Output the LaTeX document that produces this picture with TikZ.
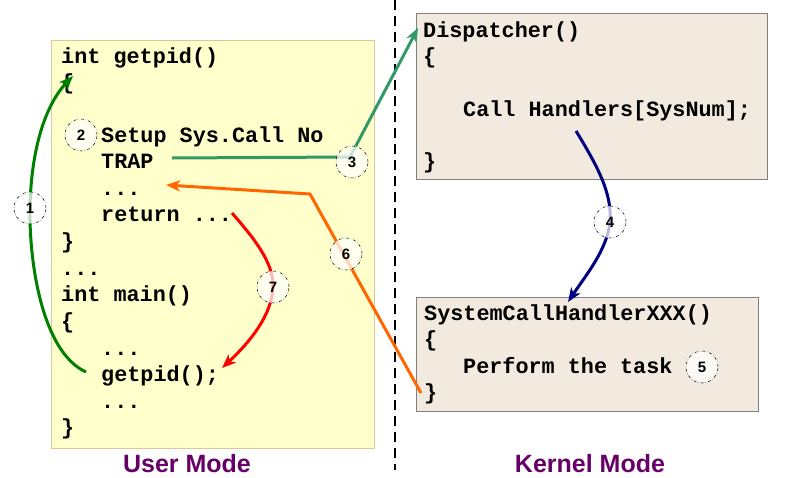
\documentclass[tikz,border=0pt]{standalone}
\usepackage{fontspec}
\setmainfont{Liberation Sans}
\newfontfamily\codefont{Liberation Mono}
\usetikzlibrary{arrows.meta,calc}

\definecolor{userfill}{HTML}{FFFFCC}
\definecolor{userline}{HTML}{D8C89A}
\definecolor{kernfill}{HTML}{F2EADF}
\definecolor{kernline}{HTML}{808080}
\definecolor{modecol}{HTML}{660066}
\definecolor{trapgreen}{HTML}{339966}
\definecolor{callgreen}{HTML}{008000}
\definecolor{retorange}{HTML}{FF6600}
\definecolor{dispnavy}{HTML}{000080}
\definecolor{retred}{HTML}{FF0000}

\tikzset{
  code/.style={font=\codefont\fontsize{21.8}{26}\selectfont\bfseries,
               anchor=base west, inner sep=0pt},
  userbox/.style={draw=userline, fill=userfill, line width=1pt,
                  anchor=north west, inner sep=0pt, outer sep=0pt},
  kernbox/.style={draw=kernline, fill=kernfill, line width=1pt,
                  anchor=north west, inner sep=0pt, outer sep=0pt},
  stepmark/.style={circle, draw, dash dot, line width=0.5pt,
                   minimum size=32pt, inner sep=0pt,
                   fill=white, fill opacity=0.72, text opacity=1,
                   font=\bfseries\fontsize{15}{15}\selectfont},
  arr/.style={line width=3pt,
              -{Stealth[length=14pt,width=11pt,inset=4pt]}},
  modelabel/.style={text=modecol, font=\bfseries\fontsize{25}{25}\selectfont,
                    inner sep=0pt},
  separator/.style={line width=2.8pt, dash pattern=on 10pt off 6pt}
}

\begin{document}
\begin{tikzpicture}[x=1pt, y=-1pt]
\useasboundingbox (0,0) rectangle (790,477);

% user / kernel separator
\coordinate (septop) at (395,0);
\coordinate (sepbot) at (395,470);
\draw[separator] (septop) -- (sepbot);

% boxes
\node[userbox, minimum width=323pt, minimum height=408pt] (user) at (51,40) {};
\node[kernbox, minimum width=351pt, minimum height=166pt] (disp) at (416,13) {};
\node[kernbox, minimum width=342pt, minimum height=114pt] (hand) at (416,297) {};

% user program
\node[code] (u1)  at (61,63)   {int getpid()};
\node[code] (u2)  at (61,89.6) {\{};
\node[code] (u3)  at (101,142) {Setup Sys.Call No};
\node[code] (u4)  at (101,168) {TRAP};
\node[code] (u5)  at (101,195) {...};
\node[code] (u6)  at (101,221) {return ...};
\node[code] (u7)  at (61,248)  {\}};
\node[code] (u8)  at (61,275)  {...};
\node[code] (u9)  at (61,301)  {int main()};
\node[code] (u10) at (61,328)  {\{};
\node[code] (u11) at (101,355) {...};
\node[code] (u12) at (101,381) {getpid();};
\node[code] (u13) at (101,408) {...};
\node[code] (u14) at (61,434)  {\}};

% dispatcher
\node[code] (d1) at (423,37)  {Dispatcher()};
\node[code] (d2) at (423,63)  {\{};
\node[code] (d3) at (463,116) {Call Handlers[SysNum];};
\node[code] (d4) at (423,168) {\}};

% handler
\node[code] (h1) at (424,320) {SystemCallHandlerXXX()};
\node[code] (h2) at (424,346) {\{};
\node[code] (h3) at (463,373) {Perform the task};
\node[code] (h4) at (424,399) {\}};

% mode labels
\node[modelabel] (umode) at (187,464) {User Mode};
\node[modelabel] (kmode) at (590,464) {Kernel Mode};

% step marks (positions)
\coordinate (p1) at (30,208);
\coordinate (p2) at (81,135);
\coordinate (p3) at (352,162);
\coordinate (p4) at (610,222);
\coordinate (p5) at (702,367);
\coordinate (p6) at (346,254);
\coordinate (p7) at (273,287);

% connector ends
\coordinate (a1s) at (86,372);
\coordinate (a1t) at (73,76);
\coordinate (a3s) at (172,158);
\coordinate (a3k) at (350,157);
\coordinate (a3t) at (418,28);
\coordinate (a4s) at (576,131);
\coordinate (a4t) at (568,302);
\coordinate (a6s) at (421,393);
\coordinate (a6k) at (310,194);
\coordinate (a6t) at (166,185);
\coordinate (a7s) at (232,213);
\coordinate (a7t) at (222,368);

% 1: call getpid()
\draw[arr, callgreen] (a1s) .. controls (42,352) and (29,262) .. (p1)
      .. controls (31,150) and (45,105) .. (a1t);
% 3: trap into the kernel
\draw[arr, trapgreen] (a3s) -- (a3k) -- (a3t);
% 4: dispatch to handler
\draw[arr, dispnavy] (a4s) .. controls (600,170) and (612,195) .. (p4)
      .. controls (607,250) and (586,275) .. (a4t);
% 6: return from trap
\draw[arr, retorange] (a6s) -- (a6k) -- (a6t);
% 7: return to caller
\draw[arr, retred] (a7s) .. controls (252,236) and (274,262) .. (p7)
      .. controls (272,315) and (250,342) .. (a7t);

% step marks
\node[stepmark] (c1) at (p1) {1};
\node[stepmark] (c2) at (p2) {2};
\node[stepmark] (c3) at (p3) {3};
\node[stepmark] (c4) at (p4) {4};
\node[stepmark] (c5) at (p5) {5};
\node[stepmark] (c6) at (p6) {6};
\node[stepmark] (c7) at (p7) {7};
\end{tikzpicture}
\end{document}
